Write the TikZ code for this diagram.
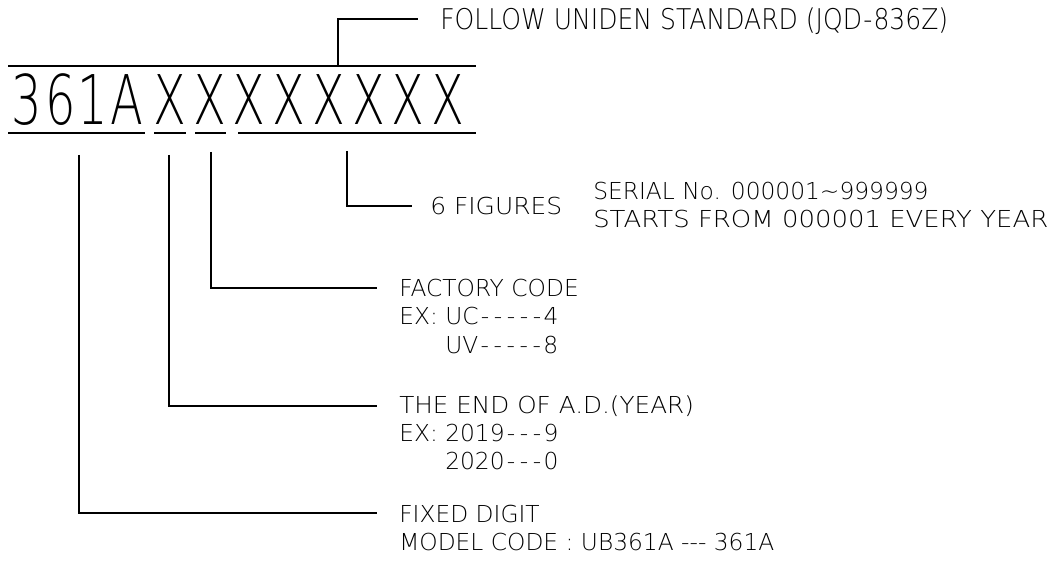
\documentclass[tikz,border=0pt]{standalone}
\usepackage{fontspec}
\IfFontExistsTF{DejaVu Sans ExtraLight}{\setmainfont{DejaVu Sans ExtraLight}}{\setmainfont{DejaVu Sans}}
\newcommand\bigfnt{\fontsize{51.4pt}{60pt}\selectfont}
\newcommand\smfnt{\fontsize{17.5pt}{21pt}\selectfont}
\newcommand\topfnt{\fontsize{21.4pt}{25pt}\selectfont}
\newcommand\nch[1]{\scalebox{0.7}[1]{#1}}
\newcommand\hy{\makebox[9.75pt]{-}}
\newcommand\shy{\mbox{-}}
\newcommand\fitw[2]{\resizebox{#1}{\height}{#2}}
\begin{document}
\begin{tikzpicture}[x=0.75pt,y=-0.75pt,
  lbl/.style={anchor=base west, inner sep=0pt, font=\smfnt},
  toplbl/.style={anchor=base west, inner sep=0pt, font=\topfnt},
  big/.style={anchor=base, inner sep=0pt, font=\bigfnt},
  leader/.style={line width=1pt},
  uline/.style={line width=1.5pt}]
\useasboundingbox (0,0) rectangle (1060,566);

% big code
\node[big] (d3) at (26.5,125) {\nch{3}};
\node[big] (d6) at (61,125) {\nch{6}};
\node[big] (d1) at (93,125) {\nch{1}};
\node[big] (dA) at (126.5,125) {\nch{A}};
\foreach \i [count=\k] in {170,209.7,249.4,289.1,328.8,368.5,408.2,447.9}
  \node[big] (x\k) at (\i,125) {\nch{X}};

% top rule and leader
\coordinate (tl) at (8,66);
\coordinate (tr) at (476,66);
\coordinate (tb) at (338,66);
\coordinate (te) at (418,19);
\draw[leader] (tl) -- (tr);
\draw[leader] (tb) |- (te);
\node[toplbl] (follow) at (440,29.5) {\fitw{381pt}{FOLLOW UNIDEN STANDARD (JQD\hy 836Z)}};

% underlines
\coordinate (u1a) at (8,133);   \coordinate (u1b) at (145,133);
\coordinate (u2a) at (154,133); \coordinate (u2b) at (186,133);
\coordinate (u3a) at (195,133); \coordinate (u3b) at (226,133);
\coordinate (u4a) at (238,133); \coordinate (u4b) at (476,133);
\draw[uline] (u1a) -- (u1b);
\draw[uline] (u2a) -- (u2b);
\draw[uline] (u3a) -- (u3b);
\draw[uline] (u4a) -- (u4b);

% leaders
\coordinate (s4) at (347,151); \coordinate (e4) at (412,206);
\coordinate (s3) at (211,152); \coordinate (e3) at (377,288);
\coordinate (s2) at (169,155); \coordinate (e2) at (377,406);
\coordinate (s1) at (79,155);  \coordinate (e1) at (377,513);
\draw[leader] (s4) |- (e4);
\draw[leader] (s3) |- (e3);
\draw[leader] (s2) |- (e2);
\draw[leader] (s1) |- (e1);

% labels
\node[lbl] (six) at (430,215) {\fitw{99pt}{6 FIGURES}};
\node[lbl] (ser1) at (593,200) {SERIAL No. 000001\textasciitilde 999999};
\node[lbl] (ser2) at (593,228) {\fitw{341.25pt}{STARTS FROM 000001 EVERY YEAR}};

\node[lbl] (fac1) at (399,296.5) {FACTORY CODE};
\node[lbl] (fac2) at (399,325) {EX: UC\hy\hy\hy\hy\hy 4};
\node[lbl] (fac3) at (399,353.5) {\phantom{EX: }UV\hy\hy\hy\hy\hy 8};

\node[lbl] (yr1) at (399,414) {\fitw{221pt}{THE END OF A.D.(YEAR)}};
\node[lbl] (yr2) at (399,441.5) {EX: 2019\hy\hy\hy 9};
\node[lbl] (yr3) at (399,469) {\phantom{EX: }2020\hy\hy\hy 0};

\node[lbl] (fix1) at (399,522) {FIXED DIGIT};
\node[lbl] (fix2) at (399,550) {MODEL CODE : UB361A \shy\shy\shy\ 361A};
\end{tikzpicture}
\end{document}
